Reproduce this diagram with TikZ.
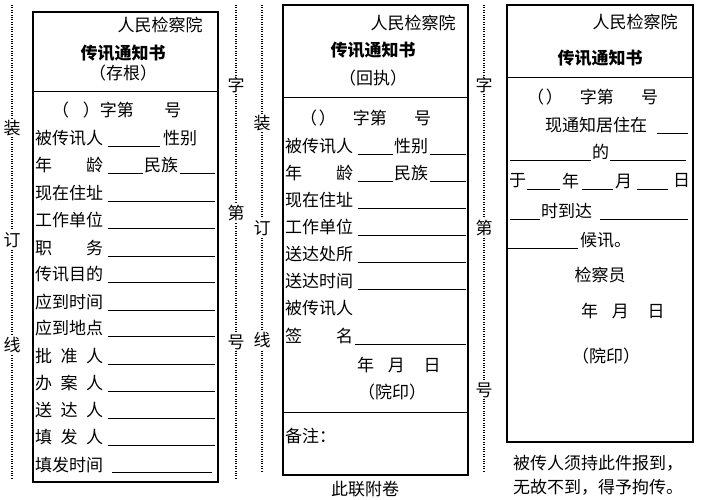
\documentclass[tikz,border=0pt]{standalone}
\usepackage{fontspec}
\setmainfont{Noto Sans CJK SC}
\newcommand{\Lb}[4]{\node[t,anchor=west] (#1) at (#2,#3) {#4};}
\newcommand{\Ct}[4]{\node[t] (#1) at (#2,#3) {#4};}
\newcommand{\Ul}[3]{\draw[ul] (#1,#3) -- (#2,#3);}
\begin{document}
\begin{tikzpicture}[x=1pt,y=-1pt,
  t/.style={inner sep=0pt,font=\fontsize{17}{18}\selectfont},
  tb/.style={t,font=\fontsize{17}{18}\selectfont\bfseries},
  ul/.style={line width=0.7pt},
  box/.style={line width=1.6pt},
  sep/.style={line width=0.8pt},
  dot/.style={line width=1.6pt,dash pattern=on 0.8pt off 1.6pt},
  side/.style={t,fill=white,inner sep=1pt}]
\useasboundingbox (0,0) rectangle (701,500);
% dotted binding lines
\draw[dot] (12,5) -- (12,478);
\draw[dot] (236,5) -- (236,478);
\draw[dot] (262,5) -- (262,472);
\draw[dot] (484,5) -- (484,472);
\node[side] (s1) at (12,128) {装};
\node[side] (s2) at (12,240) {订};
\node[side] (s3) at (12,345) {线};
\node[side] (s4) at (236,85) {字};
\node[side] (s5) at (236,213) {第};
\node[side] (s6) at (236,342) {号};
\node[side] (s7) at (262,123) {装};
\node[side] (s8) at (262,228) {订};
\node[side] (s9) at (262,340) {线};
\node[side] (s10) at (484,85) {字};
\node[side] (s11) at (484,228) {第};
\node[side] (s12) at (484,390) {号};
% ===== Panel 1 =====
\draw[box] (33,12) rectangle (218,482);
\Ct{a0}{160}{25}{人民检察院}
\node[tb] (a1) at (123,53) {传讯通知书};
\Ct{a2}{123}{73}{（存根）}
\draw[sep] (33,91) -- (218,91);
\Lb{a3}{52}{110}{（\hspace{0.8em}）字第\hspace{1.8em}号}
\Lb{a4}{35}{138}{被传讯人} \Ul{108}{160}{146} \Lb{a4b}{163}{138}{性别}
\Lb{a5}{35}{165}{年\hspace{2em}龄} \Ul{108}{143}{173} \Lb{a5b}{144}{165}{民族} \Ul{180}{215}{173}
\foreach \n/\y/\s in {6/193/现在住址,7/220/工作单位,8/248/职\hspace{2em}务,9/274/传讯目的,10/302/应到时间,11/328/应到地点,12/356/批\hspace{0.5em}准\hspace{0.5em}人,13/383/办\hspace{0.5em}案\hspace{0.5em}人,14/410/送\hspace{0.5em}达\hspace{0.5em}人,15/437/填\hspace{0.5em}发\hspace{0.5em}人}{
  \node[t,anchor=west] (a\n) at (35,\y) {\s};
  \draw[ul] (108,\y+8) -- (215,\y+8);
}
\Lb{a16}{35}{465}{填发时间} \Ul{112}{212}{472}
% ===== Panel 2 =====
\draw[box] (283,5) rectangle (468,475);
\Ct{b0}{413}{23}{人民检察院}
\node[tb] (b1) at (373,50) {传讯通知书};
\Ct{b2}{373}{78}{（回执）}
\draw[sep] (283,97) -- (468,97);
\Lb{b3}{300}{118}{（\hspace{0.1em}）\hspace{1em}字第\hspace{1.6em}号}
\Lb{b4}{285}{146}{被传讯人} \Ul{358}{393}{154} \Lb{b4b}{394}{146}{性别} \Ul{430}{466}{154}
\Lb{b5}{285}{173}{年\hspace{2em}龄} \Ul{358}{393}{181} \Lb{b5b}{394}{173}{民族} \Ul{430}{466}{181}
\foreach \n/\y/\s in {6/200/现在住址,7/227/工作单位,8/254/送达处所,9/281/送达时间}{
  \node[t,anchor=west] (b\n) at (285,\y) {\s};
  \draw[ul] (358,\y+8) -- (466,\y+8);
}
\Lb{b10}{285}{308}{被传讯人}
\Lb{b11}{285}{336}{签\hspace{2em}名} \Ul{355}{466}{344}
\Lb{b12}{357}{365}{年\hspace{0.8em}月\hspace{1.1em}日}
\Ct{b13}{392}{392}{（院印）}
\draw[sep] (283,412) -- (468,412);
\Lb{b14}{285}{436}{备注：}
\Ct{b15}{365}{489}{此联附卷}
% ===== Panel 3 =====
\draw[box] (507,5) rectangle (693,442);
\Ct{c0}{635}{22}{人民检察院}
\node[tb] (c1) at (600,58) {传讯通知书};
\draw[sep] (507,77) -- (693,77);
\Lb{c2}{527}{97}{（\hspace{0.1em}）\hspace{1em}字第\hspace{1.6em}号}
\Lb{c3}{545}{125}{现通知居住在} \Ul{657}{688}{133}
\Ul{510}{591}{160} \Lb{c4}{592}{152}{的} \Ul{610}{686}{160}
\Lb{c5}{509}{181}{于} \Ul{527}{560}{189} \Lb{c6}{562}{181}{年} \Ul{582}{613}{189}
\Lb{c7}{615}{181}{月} \Ul{637}{668}{189} \Lb{c8}{673}{181}{日}
\Ul{510}{540}{219} \Lb{c9}{541}{211}{时到达} \Ul{600}{688}{219}
\Ul{508}{578}{248} \Lb{c10}{580}{240}{候讯。}
\Ct{c11}{600}{275}{检察员}
\Lb{c12}{581}{311}{年\hspace{0.8em}月\hspace{1.1em}日}
\Ct{c13}{606}{356}{（院印）}
\Ct{c14}{598}{463}{被传人须持此件报到，}
\Ct{c15}{598}{487}{无故不到，得予拘传。}
\end{tikzpicture}
\end{document}
